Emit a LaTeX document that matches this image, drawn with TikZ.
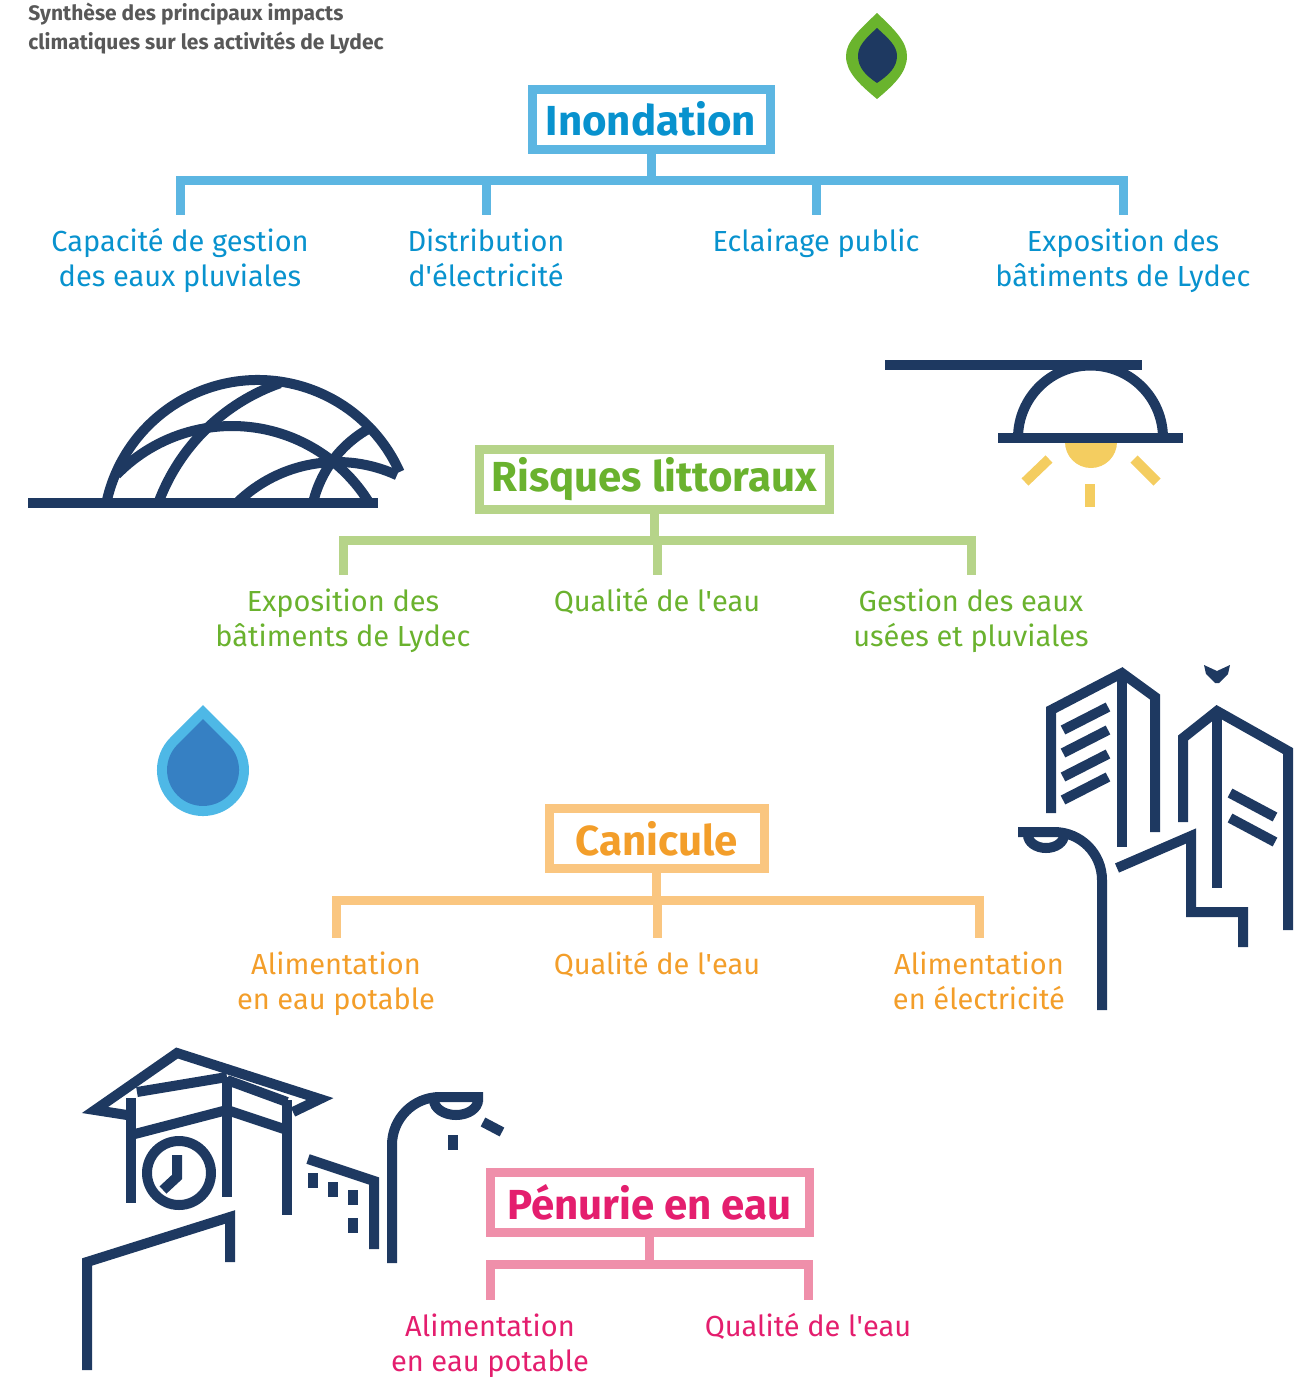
\documentclass[tikz,border=0pt]{standalone}
\usepackage{fontspec}
\setmainfont{Fira Sans}
\usetikzlibrary{calc}
\definecolor{navy}{RGB}{30,57,97}
\definecolor{inondline}{RGB}{92,182,226}
\definecolor{inondtext}{RGB}{8,146,206}
\definecolor{littline}{RGB}{182,212,137}
\definecolor{litttext}{RGB}{106,178,46}
\definecolor{caniline}{RGB}{250,198,128}
\definecolor{canitext}{RGB}{243,158,42}
\definecolor{penline}{RGB}{239,143,170}
\definecolor{pentext}{RGB}{228,30,110}
\definecolor{sunny}{RGB}{244,205,96}
\definecolor{dropout}{RGB}{78,184,230}
\definecolor{dropin}{RGB}{54,128,195}
\definecolor{leafgreen}{RGB}{106,180,45}
\definecolor{titlegray}{RGB}{88,88,88}

\begin{document}
\begin{tikzpicture}[
  x=0.5pt, y=-0.5pt,
  hazard/.style={draw=#1line, line width=4.5pt, text=#1text,
                 font=\fontsize{21}{25}\selectfont\bfseries,
                 minimum height=30pt, inner sep=0pt},
  impact/.style={text=#1text, font=\fontsize{14.5}{17.5}\selectfont,
                 align=center, inner sep=0pt, outer ysep=6.75pt, anchor=north},
  link/.style={draw=#1line, line width=4.5pt},
  icon/.style={draw=navy, line width=5pt}
]
\useasboundingbox (0,0) rectangle (1310,1377);

% ===== TITLE + LEAF =====
\node[font=\fontsize{10.5}{14.5}\selectfont\bfseries, text=titlegray, align=left,
      anchor=north west, inner sep=0pt]
  (title) at (28,3) {Synthèse des principaux impacts\\climatiques sur les activités de Lydec};

\fill[leafgreen] (877,13) .. controls (895,30) and (907,42) .. (907,56)
  .. controls (907,72) and (895,84) .. (877,99)
  .. controls (859,84) and (846,72) .. (846,56)
  .. controls (846,42) and (859,30) .. (877,13) -- cycle;
\fill[navy] (877,28) .. controls (889,39) and (897,46) .. (897,56)
  .. controls (897,67) and (889,75) .. (877,83)
  .. controls (865,75) and (858,67) .. (858,56)
  .. controls (858,46) and (865,39) .. (877,28) -- cycle;

% ===== INONDATION =====
\node[hazard=inond, minimum width=119pt] (inond) at (651,119) {Inondation};
\node[impact=inond] (inondpluv) at (180,215) {Capacité de gestion\\des eaux pluviales};
\node[impact=inond] (inondelec) at (486,215) {Distribution\\d\textquotesingle électricité};
\node[impact=inond] (inondecl) at (816,215) {Eclairage public};
\node[impact=inond] (inondbat) at (1123,215) {Exposition des\\bâtiments de Lydec};
\foreach \n in {inondpluv,inondelec,inondecl,inondbat}{
  \draw[link=inond] (inond.south) -- ++(0,27) -| (\n.north);
}

% ===== RISQUES LITTORAUX =====
\node[hazard=litt, minimum width=175pt] (litt) at (654,479) {Risques littoraux};
\node[impact=litt] (littbat) at (343,575) {Exposition des\\bâtiments de Lydec};
\node[impact=litt] (litteau) at (657,575) {Qualité de l\textquotesingle eau};
\node[impact=litt] (littusees) at (971,575) {Gestion des eaux\\usées et pluviales};
\foreach \n in {littbat,litteau,littusees}{
  \draw[link=litt] (litt.south) -- ++(0,27) -| (\n.north);
}

% ===== CANICULE =====
\node[hazard=cani, minimum width=107.5pt] (cani) at (656.5,838.5) {Canicule};
\node[impact=cani] (canipot) at (336,938) {Alimentation\\en eau potable};
\node[impact=cani] (canieau) at (657,938) {Qualité de l\textquotesingle eau};
\node[impact=cani] (canielec) at (979,938) {Alimentation\\en électricité};
\foreach \n in {canipot,canieau,canielec}{
  \draw[link=cani] (cani.south) -- ++(0,27) -| (\n.north);
}

% ===== PENURIE EN EAU =====
\node[hazard=pen, minimum width=159.5pt] (pen) at (649.5,1202.5) {Pénurie en eau};
\node[impact=pen] (penpot) at (490,1300) {Alimentation\\en eau potable};
\node[impact=pen] (peneau) at (808,1300) {Qualité de l\textquotesingle eau};
\foreach \n in {penpot,peneau}{
  \draw[link=pen] (pen.south) -- ++(0,27) -| (\n.north);
}

% ===== DOME =====
\draw[icon] (28,503) -- (378,503);
\draw[icon] (258,535) ++(-168:155) arc[start angle=-168, end angle=-24, radius=155];
\draw[icon] (232,587) ++(-135.8:161) arc[start angle=-135.8, end angle=-31.5, radius=161];
\draw[icon] (346,572) ++(-159.8:200) arc[start angle=-159.8, end angle=-109.3, radius=200];
\draw[icon] (337,605) ++(-134.5:143) arc[start angle=-134.5, end angle=-65.2, radius=143];
\draw[icon] (425,529) ++(-118.6:115) arc[start angle=-118.6, end angle=-166.9, radius=115];

% ===== STREET LIGHT (top right) =====
\draw[icon] (885,365) -- (1142,365);
\draw[icon] (1018,438) arc[start angle=180, end angle=360, radius=72.5];
\fill[sunny] (1065,442) arc[start angle=180, end angle=0, radius=26] -- cycle;
\draw[icon] (998,438) -- (1183,438);
\draw[sunny, line width=5pt] (1025,482) -- (1049,459);
\draw[sunny, line width=5pt] (1134,459) -- (1157,482);
\draw[sunny, line width=5pt] (1090,484) -- (1090,507);

% ===== WATER DROP =====
\fill[dropout] (203,705) -- (235.5,737.5) arc[start angle=-45, end angle=225, radius=46] -- cycle;
\fill[dropin] (203,719.1) -- (228.5,744.5) arc[start angle=-45, end angle=225, radius=36] -- cycle;

% ===== TOWERS + LAMP (right) =====
\draw[icon] (1051,813) -- (1051,710) -- (1122,673) -- (1155,697) -- (1155,832);
\draw[icon] (1122,678) -- (1122,847);
\foreach \d in {0,23,47,70}{
  \draw[icon] (1063,730+\d) -- (1108,707+\d);
}
\draw[icon] (1183,822) -- (1183,738) -- (1217,711) -- (1288,751) -- (1288,930);
\draw[icon] (1217,716) -- (1217,888);
\draw[icon] (1230,793) -- (1275,817);
\draw[icon] (1230,818) -- (1275,842);
\fill[navy] (1204,665) -- (1217,671) -- (1230,665) -- (1228,674) -- (1219,683)
  -- (1215,683) -- (1206,674) -- cycle;
\draw[icon] (1117,868) -- (1191,836) -- (1191,912) -- (1243,912) -- (1243,947);
\draw[icon] (1018,832) -- (1054,832) arc[start angle=-90, end angle=0, radius=48] -- (1102,1010);
\draw[icon] (1028,835) arc[start angle=180, end angle=0, x radius=18, y radius=13];

% ===== CLOCK TOWER + LAMP (bottom left) =====
\draw[icon] (127,1115) -- (95,1110) -- (177,1053) -- (320,1099) -- (293,1112);
\draw[icon] (137,1092) -- (227,1077);
\draw[icon] (227,1080) -- (287,1102);
\draw[icon] (131,1098) -- (131,1203);
\draw[icon] (227,1077) -- (227,1197);
\draw[icon] (287,1100) -- (287,1215);
\draw[icon] (131,1135) -- (227,1110) -- (287,1130);
\draw[icon] (179,1173) circle[radius=32];
\draw[icon] (177,1155) -- (177,1177) -- (163,1190);
\draw[icon] (87,1370) -- (87,1262) -- (230,1217) -- (230,1262);
\draw[icon] (308,1159) -- (374,1181) -- (374,1249);
\foreach \wx/\wy in {313/1173, 333/1182, 353/1190, 353/1218}{
  \draw[icon] (\wx,\wy) -- (\wx,\wy+15);
}
\draw[icon] (392,1263) -- (392,1145) arc[start angle=-180, end angle=-90, radius=48] -- (483,1097);
\draw[icon] (434,1100) arc[start angle=180, end angle=0, x radius=22, y radius=15];
\draw[icon] (453,1135) -- (453,1150);
\draw[icon] (483,1122) -- (502,1132);

\end{tikzpicture}
\end{document}
